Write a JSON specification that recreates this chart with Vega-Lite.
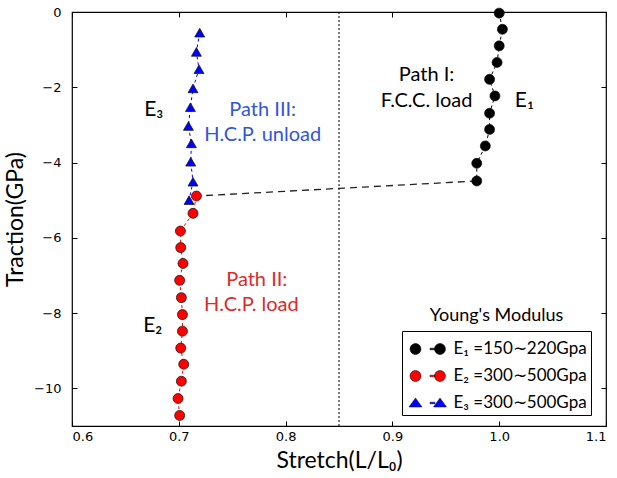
{
  "$schema": "https://vega.github.io/schema/vega-lite/v6.json",
  "width": 534,
  "height": 414,
  "autosize": "none",
  "padding": {"left": 72, "top": 12, "right": 11, "bottom": 52},
  "background": "white",
  "config": {
    "view": {"stroke": "black", "strokeWidth": 1.2},
    "axis": {"grid": false, "domain": false, "ticks": true, "tickColor": "black", "tickWidth": 1, "tickSize": 5, "offset": -5, "zindex": 2, "labelFont": "DejaVu Sans", "labelFontSize": 13, "labelColor": "black", "titleFont": "Lato", "titleFontWeight": "normal", "titleFontSize": 23, "titleColor": "black"}
  },
  "datasets": {
    "pts": [
      {"series": "E1", "i": 1, "x": 1.000, "y": -0.03},
      {"series": "E1", "i": 2, "x": 1.003, "y": -0.46},
      {"series": "E1", "i": 3, "x": 1.000, "y": -0.90},
      {"series": "E1", "i": 4, "x": 0.998, "y": -1.34},
      {"series": "E1", "i": 5, "x": 0.991, "y": -1.79},
      {"series": "E1", "i": 6, "x": 0.996, "y": -2.23},
      {"series": "E1", "i": 7, "x": 0.991, "y": -2.69},
      {"series": "E1", "i": 8, "x": 0.991, "y": -3.12},
      {"series": "E1", "i": 9, "x": 0.987, "y": -3.56},
      {"series": "E1", "i": 10, "x": 0.979, "y": -4.02},
      {"series": "E1", "i": 11, "x": 0.979, "y": -4.49},
      {"series": "E2", "i": 1, "x": 0.7165, "y": -4.89},
      {"series": "E2", "i": 2, "x": 0.7133, "y": -5.35},
      {"series": "E2", "i": 3, "x": 0.7015, "y": -5.82},
      {"series": "E2", "i": 4, "x": 0.7018, "y": -6.26},
      {"series": "E2", "i": 5, "x": 0.7039, "y": -6.68},
      {"series": "E2", "i": 6, "x": 0.7008, "y": -7.13},
      {"series": "E2", "i": 7, "x": 0.7024, "y": -7.59},
      {"series": "E2", "i": 8, "x": 0.7034, "y": -8.04},
      {"series": "E2", "i": 9, "x": 0.7034, "y": -8.48},
      {"series": "E2", "i": 10, "x": 0.7018, "y": -8.93},
      {"series": "E2", "i": 11, "x": 0.7046, "y": -9.36},
      {"series": "E2", "i": 12, "x": 0.7024, "y": -9.81},
      {"series": "E2", "i": 13, "x": 0.6993, "y": -10.27},
      {"series": "E2", "i": 14, "x": 0.7008, "y": -10.72},
      {"series": "E3", "i": 1, "x": 0.7196, "y": -0.55},
      {"series": "E3", "i": 2, "x": 0.7165, "y": -1.06},
      {"series": "E3", "i": 3, "x": 0.7189, "y": -1.52},
      {"series": "E3", "i": 4, "x": 0.7133, "y": -2.03},
      {"series": "E3", "i": 5, "x": 0.7109, "y": -2.53},
      {"series": "E3", "i": 6, "x": 0.7090, "y": -3.03},
      {"series": "E3", "i": 7, "x": 0.7118, "y": -3.49},
      {"series": "E3", "i": 8, "x": 0.7112, "y": -3.98},
      {"series": "E3", "i": 9, "x": 0.7133, "y": -4.51},
      {"series": "E3", "i": 10, "x": 0.7096, "y": -5.00}
    ],
    "connector": [
      {"i": 1, "x": 0.979, "y": -4.49},
      {"i": 2, "x": 0.7165, "y": -4.89}
    ],
    "labels": [
      {"t": "Path I:", "x": 0.932, "y": -1.68, "c": "k", "s": 20},
      {"t": "F.C.C. load", "x": 0.932, "y": -2.37, "c": "k", "s": 20},
      {"t": "E₁", "x": 1.0236, "y": -2.37, "c": "k", "s": 21},
      {"t": "Path III:", "x": 0.7786, "y": -2.61, "c": "b", "s": 20},
      {"t": "H.C.P. unload", "x": 0.7786, "y": -3.27, "c": "b", "s": 20},
      {"t": "E₃", "x": 0.6766, "y": -2.61, "c": "k", "s": 21},
      {"t": "Path II:", "x": 0.773, "y": -7.13, "c": "r", "s": 20},
      {"t": "H.C.P. load", "x": 0.768, "y": -7.79, "c": "r", "s": 20},
      {"t": "E₂", "x": 0.6756, "y": -8.35, "c": "k", "s": 21},
      {"t": "Young's Modulus", "x": 0.9975, "y": -8.07, "c": "k", "s": 18}
    ]
  },
  "layer": [
    {
      "data": {"values": [{"x": 0.85}]},
      "mark": {"type": "rule", "color": "black", "strokeWidth": 1, "strokeDash": [2, 2]},
      "encoding": {
        "x": {"field": "x", "type": "quantitative", "scale": {"domain": [0.6, 1.1], "nice": false, "zero": false}, "axis": {"orient": "top", "labels": false, "title": null, "values": [0.6, 0.7, 0.8, 0.9, 1.0, 1.1]}}
      }
    },
    {
      "data": {"name": "connector"},
      "mark": {"type": "line", "color": "#222222", "strokeWidth": 1.3, "strokeDash": [7, 5]},
      "encoding": {
        "x": {"field": "x", "type": "quantitative", "axis": null},
        "y": {"field": "y", "type": "quantitative", "scale": {"domain": [-11, 0], "nice": false}, "axis": {"orient": "right", "labels": false, "title": null, "values": [-10, -8, -6, -4, -2, 0]}},
        "order": {"field": "i"}
      }
    },
    {
      "data": {"name": "pts"},
      "mark": {"type": "line", "strokeWidth": 1, "strokeDash": [3, 3]},
      "encoding": {
        "x": {"field": "x", "type": "quantitative", "axis": null},
        "y": {"field": "y", "type": "quantitative", "axis": null},
        "color": {"field": "series", "type": "nominal", "scale": {"domain": ["E1", "E2", "E3"], "range": ["#000000", "#ff0000", "#0000ff"]}, "legend": null},
        "detail": {"field": "series"},
        "order": {"field": "i"}
      }
    },
    {
      "data": {"name": "pts"},
      "mark": {"type": "point", "filled": true, "opacity": 1, "stroke": "#111111", "strokeWidth": 0.7, "size": 100},
      "encoding": {
        "x": {"field": "x", "type": "quantitative", "axis": {"orient": "bottom", "title": "Stretch(L/L₀)", "values": [0.6, 0.7, 0.8, 0.9, 1.0, 1.1], "format": ".1f", "labelPadding": 4, "titlePadding": 6}},
        "y": {"field": "y", "type": "quantitative", "axis": {"orient": "left", "title": "Traction(GPa)", "values": [-10, -8, -6, -4, -2, 0], "format": "d", "labelPadding": 11, "titlePadding": 6}},
        "color": {"field": "series", "type": "nominal", "scale": {"domain": ["E1", "E2", "E3"], "range": ["#000000", "#ff0000", "#0000ff"]}, "legend": null},
        "shape": {"field": "series", "type": "nominal", "scale": {"domain": ["E1", "E2", "E3"], "range": ["circle", "circle", "triangle-up"]}, "legend": null}
      }
    },
    {
      "data": {"name": "pts"},
      "mark": {"type": "point", "filled": true, "opacity": 1, "stroke": "#111111", "strokeWidth": 0.5, "size": 0},
      "encoding": {
        "x": {"field": "x", "type": "quantitative", "axis": null},
        "y": {"field": "y", "type": "quantitative", "axis": null},
        "color": {
          "field": "series", "type": "nominal",
          "scale": {"domain": ["E1", "E2", "E3"], "range": ["#000000", "#ff0000", "#0000ff"]},
          "legend": {
            "title": null, "orient": "none", "legendX": 330, "legendY": 319,
            "strokeColor": "black", "fillColor": "white", "cornerRadius": 0, "padding": 4,
            "symbolSize": 756, "rowPadding": 5, "labelOffset": 19.5, "symbolStrokeWidth": 0.5, "symbolStrokeColor": "#111111",
            "labelFont": "Lato", "labelFontSize": 17, "labelColor": "black",
            "labelExpr": "datum.value === 'E1' ? 'E₁ =150∼220Gpa' : datum.value === 'E2' ? 'E₂ =300∼500Gpa' : 'E₃ =300∼500Gpa'"
          }
        },
        "shape": {
          "field": "series", "type": "nominal",
          "scale": {"domain": ["E1", "E2", "E3"], "range": [
            "M0.073,0 A0.4,0.4 0 1,1 -0.727,0 A0.4,0.4 0 1,1 0.073,0 Z M0.727,-0.06 L1.09,-0.06 L1.09,0.06 L0.727,0.06 Z M1.855,0 A0.4,0.4 0 1,1 1.055,0 A0.4,0.4 0 1,1 1.855,0 Z",
            "M0.073,0 A0.4,0.4 0 1,1 -0.727,0 A0.4,0.4 0 1,1 0.073,0 Z M0.727,-0.06 L1.09,-0.06 L1.09,0.06 L0.727,0.06 Z M1.855,0 A0.4,0.4 0 1,1 1.055,0 A0.4,0.4 0 1,1 1.855,0 Z",
            "M-0.327,-0.367 L0.146,0.288 L-0.8,0.288 Z M0.727,-0.06 L1.09,-0.06 L1.09,0.06 L0.727,0.06 Z M1.455,-0.367 L1.928,0.288 L0.982,0.288 Z"
          ]},
          "legend": {
            "title": null, "orient": "none", "legendX": 330, "legendY": 319,
            "strokeColor": "black", "fillColor": "white", "cornerRadius": 0, "padding": 4,
            "symbolSize": 756, "rowPadding": 5, "labelOffset": 19.5, "symbolStrokeWidth": 0.5, "symbolStrokeColor": "#111111",
            "labelFont": "Lato", "labelFontSize": 17, "labelColor": "black",
            "labelExpr": "datum.value === 'E1' ? 'E₁ =150∼220Gpa' : datum.value === 'E2' ? 'E₂ =300∼500Gpa' : 'E₃ =300∼500Gpa'"
          }
        }
      }
    },
    {
      "data": {"name": "labels"},
      "mark": {"type": "text", "font": "Lato", "align": "center", "baseline": "middle"},
      "encoding": {
        "x": {"field": "x", "type": "quantitative", "axis": null},
        "y": {"field": "y", "type": "quantitative", "axis": null},
        "text": {"field": "t"},
        "size": {"field": "s", "type": "quantitative", "scale": null, "legend": null},
        "color": {"field": "c", "type": "nominal", "scale": {"domain": ["k", "b", "r"], "range": ["#000000", "#3355dd", "#dd2a2a"]}, "legend": null}
      }
    }
  ],
  "resolve": {"axis": {"x": "independent", "y": "independent"}, "scale": {"color": "independent", "shape": "independent"}, "legend": {"color": "independent", "shape": "independent"}}
}
